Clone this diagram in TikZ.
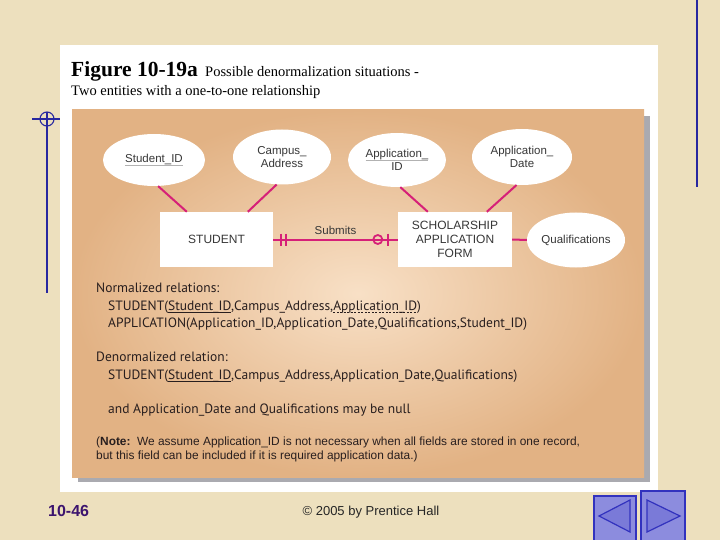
\documentclass[tikz,border=0pt]{standalone}
\usepackage{fontspec}
\setmainfont{Liberation Sans}
\newfontfamily\seriff{Liberation Serif}
\newfontfamily\relf{PT Sans}
\usetikzlibrary{shapes.geometric,calc}
\newsavebox\myulbox
\newcommand\myul[1]{\sbox\myulbox{#1}\rlap{\raisebox{-3pt}{\rule{\wd\myulbox}{0.7pt}}}#1}
\newcommand\mylightul[1]{\sbox\myulbox{#1}\rlap{\raisebox{-3pt}{\color{black!30}\rule{\wd\myulbox}{0.5pt}}}#1}
\newcommand\mydashul[1]{\sbox\myulbox{#1}\rlap{\raisebox{-3pt}{\hbox to \wd\myulbox{\xleaders\hbox{\vrule width 2pt height 0.7pt\hskip 1.4pt}\hfil}}}#1}
\definecolor{parch}{RGB}{237,224,190}
\definecolor{tandark}{RGB}{226,178,132}
\definecolor{tanlight}{RGB}{248,224,198}
\definecolor{shadowgray}{RGB}{170,170,176}
\definecolor{magentaline}{RGB}{214,32,120}
\definecolor{attrtext}{RGB}{55,55,55}
\definecolor{reltext}{RGB}{40,30,30}
\definecolor{guideblue}{RGB}{40,40,160}
\definecolor{navfill}{RGB}{140,140,222}
\definecolor{navedge}{RGB}{50,50,190}
\definecolor{footpurple}{RGB}{60,20,110}
\begin{document}
\begin{tikzpicture}[x=1pt,y=-1pt,
  attr/.style={ellipse, fill=white, inner sep=0pt, align=center, font=\fontsize{11.5}{12.5}\selectfont, text=attrtext},
  entity/.style={rectangle, fill=white, inner sep=0pt, align=center, minimum width=113pt, minimum height=55pt, font=\fontsize{12}{14}\selectfont, text=attrtext},
  link/.style={draw=magentaline, line width=2pt},
  tickmark/.style={draw=magentaline, line width=1.8pt},
  reltxt/.style={anchor=base west, inner sep=0pt, font=\relf\fontsize{13.5}{15}\selectfont, text=reltext},
  notetxt/.style={anchor=base west, inner sep=0pt, font=\fontsize{11.9}{13}\selectfont, text=reltext},
  guide/.style={draw=guideblue, line width=1.1pt},
  navbox/.style={draw=navedge, fill=navfill, line width=1.2pt}]
\useasboundingbox (0,0) rectangle (720,540);
% background
\fill[parch] (0,0) rectangle (720,540);
% guides
\draw[guide] (47,112) -- (47,293);
\draw[guide] (32,119) -- (60,119);
\draw[guide] (47,119) circle (7pt);
\draw[guide] (697,0) -- (697,187);
% white panel
\fill[white] (60,45) rectangle (658,492);
% title
\node[anchor=base west, inner sep=0pt, font=\seriff\bfseries\fontsize{21.5}{22}\selectfont] (fig) at (71,77) {Figure 10-19a};
\node[anchor=base west, inner sep=0pt, font=\seriff\fontsize{14.5}{16}\selectfont] (title1) at (205,77) {Possible denormalization situations -};
\node[anchor=base west, inner sep=0pt, font=\seriff\fontsize{14.5}{16}\selectfont] (title2) at (71,96) {Two entities with a one-to-one relationship};
% tan box with shadow
\fill[shadowgray] (78,116) rectangle (650,482);
\shade[inner color=tanlight, outer color=tandark] (72,110) rectangle (644,477);
% attributes
\node[attr, minimum width=102pt, minimum height=52pt] (sid) at (154,160) {\mylightul{Student\_ID}};
\node[attr, minimum width=98pt, minimum height=55pt] (caddr) at (282,157) {Campus\_\\Address};
\node[attr, minimum width=98pt, minimum height=54pt] (aid) at (397,160) {\mylightul{Application\_}\\ID};
\node[attr, minimum width=100pt, minimum height=56pt] (adate) at (522,157) {Application\_\\Date};
\node[attr, minimum width=98pt, minimum height=55pt] (qual) at (576,240) {Qualifications};
% entities
\node[entity] (stu) at (216.5,239.5) {STUDENT};
\node[entity, minimum width=114pt] (saf) at (455,239.5) {SCHOLARSHIP\\APPLICATION\\FORM};
% attribute links
\draw[link] (sid.-81) -- ([xshift=27pt]stu.north west);
\draw[link] (caddr.-101) -- ([xshift=88pt]stu.north west);
\draw[link] (aid.-83) -- ([xshift=30pt]saf.north west);
\draw[link] (adate.-101) -- ([xshift=89pt]saf.north west);
\draw[link] (saf.east) -- (qual.west);
% relationship
\draw[link] (stu.east) -- (saf.west) node[midway, above=4pt, inner sep=0pt, text=attrtext, font=\fontsize{11.5}{12}\selectfont] (submits) {Submits};
\draw[tickmark] ([xshift=8pt]stu.east) ++(0,-6) -- ++(0,12);
\draw[tickmark] ([xshift=13pt]stu.east) ++(0,-6) -- ++(0,12);
\draw[tickmark] ([xshift=-10pt]saf.west) ++(0,-6) -- ++(0,12);
\draw[tickmark] ([xshift=-20pt]saf.west) circle (4.5pt);
% relations
\node[reltxt] (norm) at (96,292) {Normalized relations:};
\node[reltxt] (rel1) at (108,310) {STUDENT(\myul{Student\_ID},Campus\_Address,\mydashul{Application\_ID})};
\node[reltxt] (rel2) at (108,327) {APPLICATION(Application\_ID,Application\_Date,Qualifications,Student\_ID)};
\node[reltxt] (denorm) at (96,361) {Denormalized relation:};
\node[reltxt] (rel3) at (108,379) {STUDENT(\myul{Student\_ID},Campus\_Address,Application\_Date,Qualifications)};
\node[reltxt] (nulltxt) at (108,413) {and Application\_Date and Qualifications may be null};
\node[notetxt] (note1) at (96,445) {(\textbf{Note:}\ \ We assume Application\_ID is not necessary when all fields are stored in one record,};
\node[notetxt] (note2) at (96,459) {but this field can be included if it is required application data.)};
% footer
\node[anchor=base west, inner sep=0pt, font=\bfseries\fontsize{16}{18}\selectfont, text=footpurple] (pg) at (48,516) {10-46};
\node[anchor=base, inner sep=0pt, font=\fontsize{13}{15}\selectfont, text=black!85] (copy) at (371,515) {© 2005 by Prentice Hall};
% navigation buttons
\draw[navbox] (594,496) rectangle (636,541);
\draw[navbox] (641,491) rectangle (685,541);
\draw[navedge, fill=navfill!80!navedge, line width=1.2pt] (599,516) -- (630,500) -- (630,532) -- cycle;
\draw[navedge, fill=navfill!80!navedge, line width=1.2pt] (647,500) -- (647,532) -- (680,516) -- cycle;
\end{tikzpicture}
\end{document}
